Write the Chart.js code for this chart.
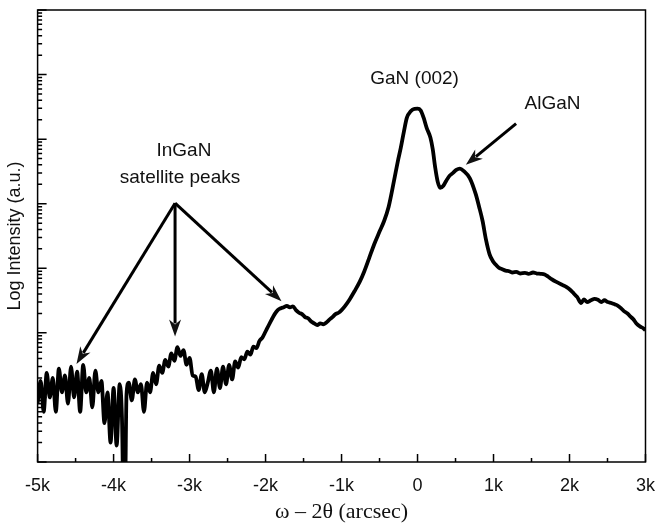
<!DOCTYPE html>
<html>
<head>
<meta charset="utf-8">
<script src="https://cdn.jsdelivr.net/npm/chart.js@4.4.0/dist/chart.umd.min.js"></script>
<style>
  html, body { margin: 0; padding: 0; background: #fff; }
  #wrap { width: 668px; height: 525px; }
</style>
</head>
<body>
<div id="wrap"><canvas id="xrdChart"></canvas></div>
<script>
// omega-2theta scan, offsets in arcsec
const arcsec = [
  -5000, -4960, -4920, -4880, -4840, -4800, -4760, -4720, -4680, -4640,
  -4600, -4560, -4520, -4480, -4440, -4400, -4360, -4320, -4280, -4240,
  -4200, -4160, -4120, -4080, -4040, -4000, -3960, -3920, -3890, -3870,
  -3850, -3830, -3800, -3760, -3720, -3680, -3640, -3600, -3560, -3520,
  -3480, -3440, -3400, -3360, -3320, -3280, -3240, -3200, -3160, -3120,
  -3080, -3040, -3000, -2960, -2920, -2880, -2840, -2800, -2760, -2720,
  -2680, -2640, -2600, -2560, -2520, -2480, -2440, -2400, -2360, -2320,
  -2280, -2240, -2200, -2160, -2120, -2080, -2040, -2000, -1960, -1920,
  -1880, -1840, -1800, -1760, -1720, -1680, -1640, -1600, -1560, -1520,
  -1480, -1440, -1400, -1360, -1320, -1280, -1240, -1200, -1160, -1120,
  -1080, -1040, -1000, -960, -900, -830, -760, -700, -640, -570,
  -500, -440, -380, -310, -260, -220, -180, -140, -90, -40,
  0, 40, 80, 120, 170, 200, 233, 265, 298, 340,
  376, 420, 467, 510, 558, 610, 687, 765, 810, 856,
  900, 947, 990, 1025, 1070, 1115, 1160, 1206, 1250, 1300,
  1350, 1414, 1460, 1520, 1570, 1620, 1673, 1720, 1764, 1820,
  1894, 1940, 1984, 2030, 2062, 2100, 2153, 2190, 2230, 2283,
  2330, 2374, 2420, 2460, 2503, 2550, 2600, 2633, 2680, 2720,
  2763, 2800, 2840, 2880, 2931, 2970, 3000
];
const intensity = [
  8, 18, 6, 24, 10, 20, 6, 28, 12, 22,
  8, 30, 10, 25, 6, 32, 12, 20, 7, 26,
  12, 18, 4, 12, 2, 14, 1.8, 16, 5, 0.3,
  0.3, 11, 17, 9, 19, 12, 16, 6, 17, 12,
  24, 16, 31, 24, 38, 30, 48, 37, 60, 44,
  54, 32, 41, 22, 21, 13, 23, 12, 17, 26,
  12, 28, 14, 30, 16, 32, 19, 36, 29, 42,
  39, 51, 46, 61, 58, 75, 85, 105, 130, 160,
  195, 225, 240, 250, 262, 248, 258, 225, 205, 195,
  175, 168, 150, 140, 132, 140, 136, 145, 160, 175,
  195, 205, 225, 255, 320, 440, 620, 900, 1400, 2360,
  3700, 5400, 9000, 22500, 45000, 74000, 130000, 215000, 270000, 295000,
  297000, 280000, 215000, 150000, 105000, 70000, 36000, 22000, 17600, 19000,
  22500, 27000, 30000, 33500, 35000, 32000, 25000, 14200, 9000, 5400,
  2800, 1660, 1300, 1150, 1020, 970, 920, 900, 860, 880,
  830, 850, 820, 860, 830, 820, 800, 740, 680, 620,
  560, 530, 490, 440, 400, 360, 290, 330, 300, 320,
  335, 325, 300, 320, 300, 290, 275, 265, 240, 215,
  200, 180, 162, 140, 125, 118, 110
];
const xTicks = [-5000, -4000, -3000, -2000, -1000, 0, 1000, 2000, 3000];
const xTickLabels = ['-5k', '-4k', '-3k', '-2k', '-1k', '0', '1k', '2k', '3k'];
const yDecades = [1, 10, 100, 1e3, 1e4, 1e5, 1e6, 1e7];

// labels and arrows, anchored in data units [arcsec, intensity]
const labels = [
  { text: 'GaN (002)', at: [-39, 870000] },
  { text: 'AlGaN', at: [1777, 355000] },
  { text: 'InGaN', at: [-3074, 66000] },
  { text: 'satellite peaks', at: [-3126, 25000] }
];
const arrows = [
  { from: [-3191, 10200], to: [-4488, 33] },
  { from: [-3191, 10200], to: [-3191, 88] },
  { from: [-3191, 10200], to: [-1790, 310] },
  { from: [1297, 174000], to: [636, 40000] }
];

const points = arcsec.map((x, i) => ({ x: x, y: intensity[i] }));

const framePlugin = {
  id: 'frame',
  afterDraw(chart) {
    const ctx = chart.ctx;
    const a = chart.chartArea;
    const xs = chart.scales.x;
    const ys = chart.scales.y;
    ctx.save();
    ctx.strokeStyle = '#000';
    ctx.lineWidth = 1.5;
    ctx.strokeRect(a.left, a.top, a.right - a.left, a.bottom - a.top);

    // inward ticks on x axis
    ctx.beginPath();
    for (let v = -5000; v <= 3000; v += 500) {
      const px = xs.getPixelForValue(v);
      const len = v % 1000 === 0 ? 8 : 4;
      ctx.moveTo(px, a.bottom);
      ctx.lineTo(px, a.bottom - len);
    }
    // inward log ticks on y axis
    for (let d = 0; d < yDecades.length; d++) {
      const base = yDecades[d];
      const py = ys.getPixelForValue(base);
      ctx.moveTo(a.left, py);
      ctx.lineTo(a.left + 9, py);
      if (d === yDecades.length - 1) break;
      for (let m = 2; m <= 9; m++) {
        const pm = ys.getPixelForValue(base * m);
        ctx.moveTo(a.left, pm);
        ctx.lineTo(a.left + 4.5, pm);
      }
    }
    ctx.stroke();

    // text labels
    ctx.fillStyle = '#111';
    ctx.font = '19px "Liberation Sans", Arial, sans-serif';
    ctx.textAlign = 'center';
    ctx.textBaseline = 'middle';
    labels.forEach(l => {
      ctx.fillText(l.text, xs.getPixelForValue(l.at[0]), ys.getPixelForValue(l.at[1]));
    });

    // arrows
    ctx.lineWidth = 3;
    arrows.forEach(ar => {
      const x1 = xs.getPixelForValue(ar.from[0]);
      const y1 = ys.getPixelForValue(ar.from[1]);
      const x2 = xs.getPixelForValue(ar.to[0]);
      const y2 = ys.getPixelForValue(ar.to[1]);
      const ang = Math.atan2(y2 - y1, x2 - x1);
      const head = 17, half = 6;
      const bx = x2 - head * Math.cos(ang);
      const by = y2 - head * Math.sin(ang);
      ctx.beginPath();
      ctx.moveTo(x1, y1);
      ctx.lineTo(x2 - (head - 4) * Math.cos(ang), y2 - (head - 4) * Math.sin(ang));
      ctx.stroke();
      ctx.beginPath();
      ctx.moveTo(x2, y2);
      ctx.lineTo(bx + half * Math.sin(ang), by - half * Math.cos(ang));
      ctx.lineTo(x2 - (head - 5) * Math.cos(ang), y2 - (head - 5) * Math.sin(ang));
      ctx.lineTo(bx - half * Math.sin(ang), by + half * Math.cos(ang));
      ctx.closePath();
      ctx.fill();
    });
    ctx.restore();
  }
};

new Chart(document.getElementById('xrdChart'), {
  type: 'line',
  data: {
    datasets: [{
      data: points,
      borderColor: '#000',
      borderWidth: 3.8,
      pointRadius: 0,
      cubicInterpolationMode: 'monotone',
      fill: false
    }]
  },
  options: {
    responsive: true,
    maintainAspectRatio: false,
    animation: false,
    events: [],
    layout: { padding: { left: 4, right: 1, top: 10, bottom: 0 } },
    plugins: {
      legend: { display: false },
      tooltip: { enabled: false }
    },
    scales: {
      x: {
        type: 'linear',
        min: -5000,
        max: 3000,
        afterBuildTicks(scale) {
          scale.ticks = xTicks.map(v => ({ value: v }));
        },
        ticks: {
          color: '#111',
          padding: 13,
          maxRotation: 0,
          autoSkip: false,
          font: { family: '"Liberation Sans", Arial, sans-serif', size: 18 },
          callback: (v) => xTickLabels[xTicks.indexOf(v)]
        },
        grid: { display: false, drawTicks: false },
        border: { display: false },
        title: {
          display: true,
          text: 'ω – 2θ (arcsec)',
          color: '#111',
          font: { family: '"Liberation Serif", "Times New Roman", serif', size: 22 },
          padding: { top: -11, bottom: 0 }
        }
      },
      y: {
        type: 'logarithmic',
        min: 1,
        max: 1e7,
        ticks: { display: false },
        grid: { display: false, drawTicks: false },
        border: { display: false },
        title: {
          display: true,
          text: 'Log Intensity (a.u.)',
          color: '#111',
          font: { family: '"Liberation Sans", Arial, sans-serif', size: 18 },
          padding: { top: 0, bottom: 12 }
        }
      }
    }
  },
  plugins: [framePlugin]
});
</script>
</body>
</html>
